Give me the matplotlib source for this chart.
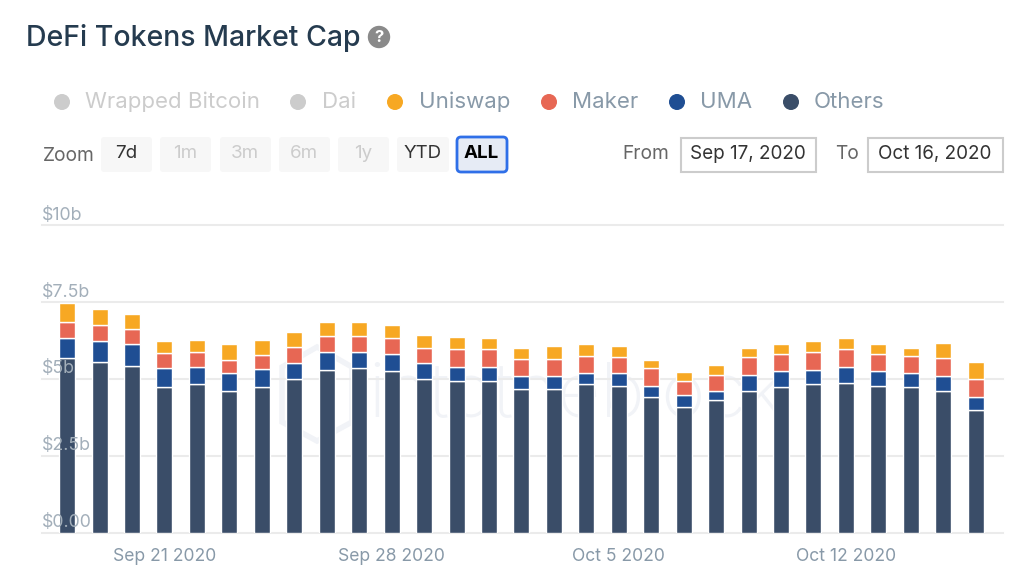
import datetime as dt
import matplotlib
matplotlib.use('Agg')
import matplotlib.pyplot as plt
import matplotlib.dates as mdates
from matplotlib.patches import FancyBboxPatch, Rectangle, Circle, Polygon
from matplotlib.transforms import ScaledTranslation

plt.rcParams['font.family'] = ['Inter', 'DejaVu Sans']

start_day = dt.date(2020, 9, 18)
n_days = 29
days = [start_day + dt.timedelta(days=i) for i in range(n_days)]

# values in $b
others = [5.67, 5.56, 5.41, 4.73, 4.83, 4.62, 4.73, 4.99, 5.30, 5.35,
          5.26, 4.99, 4.93, 4.93, 4.67, 4.67, 4.82, 4.77, 4.41, 4.09,
          4.31, 4.62, 4.73, 4.82, 4.88, 4.78, 4.73, 4.62, 4.00]
uma = [0.67, 0.67, 0.72, 0.62, 0.56, 0.58, 0.58, 0.52, 0.58, 0.52,
       0.56, 0.52, 0.47, 0.47, 0.41, 0.41, 0.37, 0.42, 0.36, 0.37,
       0.30, 0.52, 0.52, 0.47, 0.52, 0.47, 0.47, 0.47, 0.41]
maker = [0.52, 0.52, 0.48, 0.49, 0.48, 0.42, 0.47, 0.52, 0.52, 0.52,
         0.51, 0.51, 0.56, 0.56, 0.58, 0.58, 0.56, 0.52, 0.58, 0.47,
         0.52, 0.58, 0.56, 0.58, 0.58, 0.56, 0.56, 0.58, 0.58]
uniswap = [0.62, 0.51, 0.51, 0.40, 0.40, 0.51, 0.47, 0.51, 0.46, 0.46,
           0.41, 0.41, 0.41, 0.37, 0.36, 0.41, 0.37, 0.36, 0.26, 0.30,
           0.31, 0.30, 0.31, 0.36, 0.36, 0.31, 0.26, 0.51, 0.56]

y_ticks = [0, 2.5, 5, 7.5, 10]
y_labels = ['$0.00', '$2.5b', '$5b', '$7.5b', '$10b']
x_ticks = [dt.date(2020, 9, 21), dt.date(2020, 9, 28), dt.date(2020, 10, 5), dt.date(2020, 10, 12)]
x_labels = ['Sep 21 2020', 'Sep 28 2020', 'Oct 5 2020', 'Oct 12 2020']

legend_names = ['Wrapped Bitcoin', 'Dai', 'Uniswap', 'Maker', 'UMA', 'Others']
legend_colors = ['#cccccc', '#cccccc', '#f7a823', '#e76754', '#1f4e93', '#3a4d68']
legend_text_colors = ['#cccccc', '#cccccc', '#8899a8', '#8899a8', '#8899a8', '#8899a8']
legend_dot_x = [62, 298, 395, 549, 677, 791]
legend_text_x = [85, 322, 419, 572, 700, 814]

zoom_names = ['7d', '1m', '3m', '6m', '1y', 'YTD', 'ALL']
zoom_left = [101, 160, 220, 279, 338, 397, 456]
zoom_width = [51, 51, 51, 51, 51, 52, 52]
zoom_colors = ['#333333', '#cccccc', '#cccccc', '#cccccc', '#cccccc', '#333333', '#000000']

W, H = 1036, 582
fig = plt.figure(figsize=(W / 100, H / 100), dpi=100)

# page furniture is placed in pixel coordinates on a full-figure axes
ui = fig.add_axes([0, 0, 1, 1], zorder=3)
ui.set_xlim(0, W)
ui.set_ylim(H, 0)
ui.axis('off')
ui.patch.set_alpha(0)

# chart axes: x 42..1003 px, y 225.3..532.5 px
ax = fig.add_axes([42 / W, 1 - 532.5 / H, 961 / W, 307.2 / H], zorder=2)
ax.patch.set_alpha(0)
x0 = mdates.date2num(start_day)
ax.set_xlim(x0 - 25.1 / 32.45, x0 + 935.9 / 32.45)
ax.set_ylim(0, 10)
for s in ax.spines.values():
    s.set_visible(False)

ax.set_yticks(y_ticks)
ax.set_xticks(x_ticks)
ax.set_xticklabels(x_labels)
ax.tick_params(axis='x', length=0, pad=11, labelsize=12.6, labelcolor='#8899a8')
ax.tick_params(axis='y', length=0, labelleft=False)
ax.grid(axis='y', color='#ebebeb', lw=1.5, zorder=0, clip_on=False)
ax.set_axisbelow(True)

bottom = [0.0] * n_days
for vals, col in zip([others, uma, maker, uniswap], ['#3a4d68', '#1f4e93', '#e76754', '#f7a823']):
    ax.bar(days, vals, bottom=bottom, width=16 / 32.45, color=col, edgecolor='white', lw=1, zorder=3)
    bottom = [b + v for b, v in zip(bottom, vals)]

# y labels sit on top of the bars, just above their gridlines
offset = ScaledTranslation(0, 1.5 / 100, fig.dpi_scale_trans)
for val, lab in zip(y_ticks, y_labels):
    ax.text(0, val, lab.replace('$', r'\$'), transform=ax.get_yaxis_transform() + offset, ha='left', va='bottom',
            fontsize=12.8, color='#a3afba', zorder=6)

# title
ui.text(26, 37.5, 'DeFi Tokens Market Cap', fontsize=20.5, fontweight='medium', color='#253b4f', va='center')
ui.add_patch(Circle((379, 37), 10.5, color='#8a8a8a'))
ui.text(379, 37, '?', fontsize=12, fontweight='bold', color='white', ha='center', va='center')

# legend
for name, col, tcol, dx, tx in zip(legend_names, legend_colors, legend_text_colors, legend_dot_x, legend_text_x):
    ui.add_patch(Circle((dx, 102), 7.3, color=col))
    ui.text(tx, 101.5, name, fontsize=16, color=tcol, va='center')

# range selector
ui.text(43, 156, 'Zoom', fontsize=13.8, color='#666666', va='center')
for name, left, width, col in zip(zoom_names, zoom_left, zoom_width, zoom_colors):
    active = name == 'ALL'
    if active:
        ui.add_patch(FancyBboxPatch((left + 1, 137), width - 2, 35, boxstyle='round,pad=0,rounding_size=4',
                                    fc='#e6ebf5', ec='#2f6fe8', lw=2))
    else:
        ui.add_patch(FancyBboxPatch((left, 137), width, 35, boxstyle='round,pad=0,rounding_size=3',
                                    fc='#f7f7f7', ec='none'))
    ui.text(left + width / 2 - 0.5, 154, name, fontsize=13.5, color=col, ha='center', va='center',
            fontweight='bold' if active else 'normal')

# date inputs
ui.text(622.5, 154, 'From', fontsize=13.8, color='#666666', va='center')
ui.text(835, 154, 'To', fontsize=13.8, color='#666666', va='center')
for left, label in [(681, 'Sep 17, 2020'), (868, 'Oct 16, 2020')]:
    ui.add_patch(Rectangle((left, 137.5), 135, 34, fc='white', ec='#cccccc', lw=1.5))
    ui.text(left + 66.7, 154, label, fontsize=13.6, color='#333333', ha='center', va='center')

# faint watermark behind the bars
wm = fig.add_axes([0, 0, 1, 1], zorder=1)
wm.set_xlim(0, W)
wm.set_ylim(H, 0)
wm.axis('off')
wm.add_patch(Polygon([(317, 347), (352, 367), (352, 422), (317, 441), (282, 422), (282, 367)],
                     closed=True, fc='none', ec='#f1f3f7', lw=4))
wm.text(368, 396, 'intotheblock', fontsize=54, color='#f1f3f7', va='center', fontweight='light')

fig.savefig('out.png', dpi=100)
